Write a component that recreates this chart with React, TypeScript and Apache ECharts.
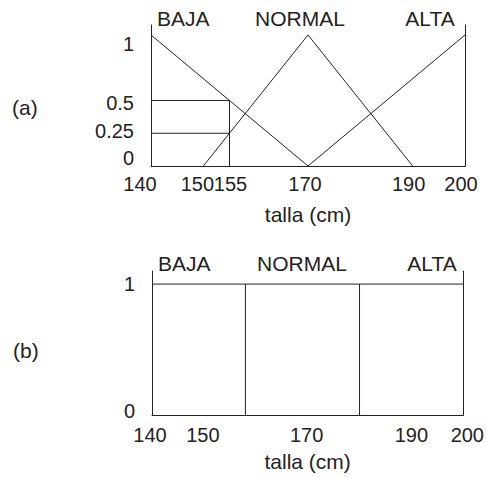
import React, { useEffect, useRef } from "react";
import * as echarts from "echarts";

// ---- data ----
const fuzzyBaja: [number, number][] = [[140, 1], [170, 0]];
const fuzzyNormal: [number, number][] = [[150, 0], [170, 1], [190, 0]];
const fuzzyAlta: [number, number][] = [[170, 0], [200, 1]];
const guide05: [number, number][] = [[140, 0.5], [155, 0.5], [155, 0]];
const guide025: [number, number][] = [[140, 0.25], [155, 0.25]];

const crispBaja: [number, number][] = [[140, 1], [158, 1], [158, 0]];
const crispNormal: [number, number][] = [[158, 1], [180, 1], [180, 0]];
const crispAlta: [number, number][] = [[180, 1], [200, 1]];

const topXTicks = [140, 150, 155, 170, 190, 200];
const bottomXTicks = [140, 150, 170, 190, 200];
const topYTicks = [0, 0.25, 0.5, 1];
const bottomYTicks = [0, 1];
const setNames = ["BAJA", "NORMAL", "ALTA"];
const axisName = "talla (cm)";
const panelNames = ["(a)", "(b)"];

const INK = "#222";
const FONT = "'Liberation Sans', Arial, sans-serif";

// per-label nudges (horizontal shift in px for x labels, vertical for y labels)
const topXShift: Record<number, number> = { 140: -11, 150: -6, 155: 1, 170: -3, 190: -4, 200: -4 };
const bottomXShift: Record<number, number> = { 140: -2, 150: -1, 170: -1, 190: 0, 200: 4 };
const topYShift: Record<number, number> = { 1: 9, 0.5: 3, 0.25: -2, 0: -8 };
const bottomYShift: Record<number, number> = { 1: 0, 0: -4 };

export default function App() {
  const ref = useRef<HTMLDivElement>(null);
  useEffect(() => {
    if (!ref.current) return;
    const chart = echarts.init(ref.current, null, { renderer: "svg" });
    const lineStyle = { color: INK, width: 1 };
    const mkSeries = (data: [number, number][], idx: number) => ({
      type: "line",
      xAxisIndex: idx,
      yAxisIndex: idx * 2,
      data,
      symbol: "none",
      lineStyle,
      silent: true,
    });
    const shiftRich = (shifts: Record<number, number>, horizontal: boolean) => {
      const rich: Record<string, any> = {};
      Object.keys(shifts).forEach((k, i) => {
        const s = shifts[Number(k)];
        const pad = Math.abs(s) * 2;
        rich["s" + i] = {
          color: INK,
          fontSize: 20,
          fontFamily: FONT,
          padding: horizontal
            ? (s < 0 ? [0, pad, 0, 0] : [0, 0, 0, pad])
            : (s > 0 ? [pad, 0, 0, 0] : [0, 0, pad, 0]),
        };
      });
      const keys = Object.keys(shifts).map(Number);
      const formatter = (v: number) => {
        const i = keys.findIndex((k) => Math.abs(k - v) < 1e-9);
        return i >= 0 ? `{s${i}|${v}}` : String(v);
      };
      return { rich, formatter };
    };
    const xAxis = (gridIndex: number, ticks: number[], shifts: Record<number, number>, margin: number, nameGap: number) => {
      const { rich, formatter } = shiftRich(shifts, true);
      return {
        type: "value",
        gridIndex,
        min: 140,
        max: 200,
        axisLine: { show: true, lineStyle: { color: INK, width: 1 } },
        axisTick: { show: false },
        splitLine: { show: false },
        axisLabel: {
          customValues: ticks,
          color: INK,
          fontSize: 20,
          fontFamily: FONT,
          margin,
          formatter,
          rich,
          hideOverlap: false,
        },
        name: axisName,
        nameLocation: "middle",
        nameGap,
        nameTextStyle: { color: INK, fontSize: 21, fontFamily: FONT },
      };
    };
    const yLeft = (gridIndex: number, max: number, ticks: number[], shifts: Record<number, number>) => {
      const { rich, formatter } = shiftRich(shifts, false);
      return {
        type: "value",
        gridIndex,
        min: 0,
        max,
        position: "left",
        axisLine: { show: true, onZero: false, lineStyle: { color: INK, width: 1 } },
        axisTick: { show: false },
        splitLine: { show: false },
        axisLabel: {
          customValues: ticks,
          color: INK,
          fontSize: 20,
          fontFamily: FONT,
          margin: 17,
          formatter,
          rich,
        },
      };
    };
    const yRight = (gridIndex: number, max: number) => ({
      type: "value",
      gridIndex,
      min: 0,
      max,
      position: "right",
      axisLine: { show: true, onZero: false, lineStyle: { color: INK, width: 1 } },
      axisTick: { show: false },
      splitLine: { show: false },
      axisLabel: { show: false },
    });
    const label = (text: string, x: number, y: number, align: string) => ({
      type: "text",
      x,
      y,
      style: {
        text,
        fill: INK,
        font: `21px ${FONT}`,
        textAlign: align,
        textVerticalAlign: "middle",
      },
    });
    chart.setOption({
      animation: false,
      backgroundColor: "#fff",
      grid: [
        { left: 151, right: 22, top: 25, height: 141 },
        { left: 152, right: 20, top: 271, height: 144 },
      ],
      xAxis: [
        xAxis(0, topXTicks, topXShift, 8, 38),
        xAxis(1, bottomXTicks, bottomXShift, 10, 36),
      ],
      yAxis: [
        yLeft(0, 1.076, topYTicks, topYShift),
        yRight(0, 1.076),
        yLeft(1, 1.1, bottomYTicks, bottomYShift),
        yRight(1, 1.1),
      ],
      series: [
        mkSeries(fuzzyBaja, 0),
        mkSeries(fuzzyNormal, 0),
        mkSeries(fuzzyAlta, 0),
        mkSeries(guide05, 0),
        mkSeries(guide025, 0),
        mkSeries(crispBaja, 1),
        mkSeries(crispNormal, 1),
        mkSeries(crispAlta, 1),
      ],
      graphic: [
        label(setNames[0], 157, 18, "left"),
        label(setNames[1], 300, 18, "center"),
        label(setNames[2], 430, 18, "center"),
        label(setNames[0], 158, 263, "left"),
        label(setNames[1], 302, 263, "center"),
        label(setNames[2], 432, 263, "center"),
        label(panelNames[0], 12, 107, "left"),
        label(panelNames[1], 13, 350, "left"),
      ],
    });
    return () => chart.dispose();
  }, []);
  return (
    <div
      ref={ref}
      style={{ position: "fixed", left: 0, top: 0, width: 487, height: 478, background: "#fff" }}
    />
  );
}
